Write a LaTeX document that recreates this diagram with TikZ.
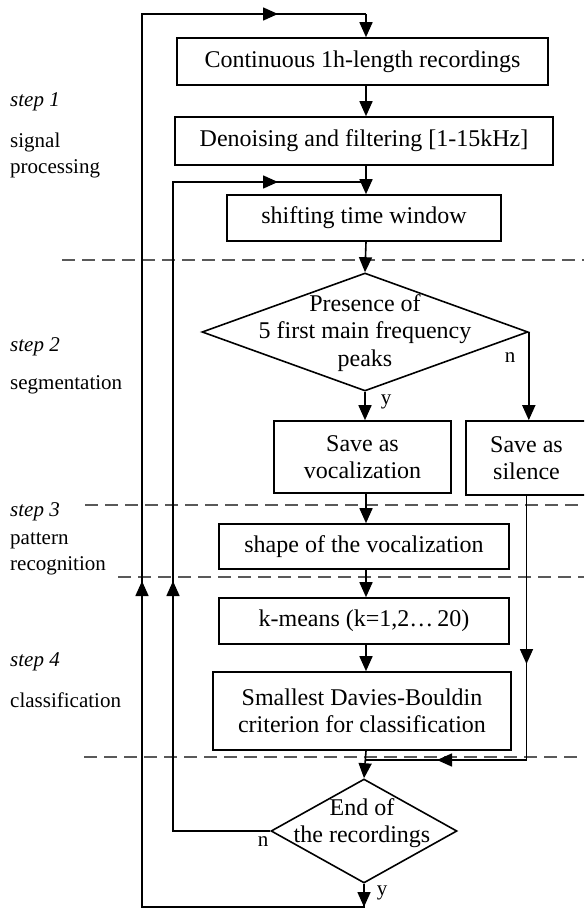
\documentclass[tikz,border=0pt]{standalone}
\usepackage{fontspec}
\setmainfont{Liberation Serif}
\usetikzlibrary{arrows.meta,shapes.geometric}
\begin{document}
\begin{tikzpicture}[x=1pt,y=-1pt,
  line/.style={draw=black, line width=1.6pt},
  arr/.style={line, -{Triangle[length=15pt,width=13pt]}},
  box/.style={draw=black, line width=1.6pt, inner sep=0pt, align=center, font=\fontsize{24}{27}\selectfont},
  dia/.style={draw=black, line width=1.6pt, diamond, inner sep=0pt},
  sep/.style={draw=black!65, line width=1.8pt, dash pattern=on 13pt off 7pt},
  lab/.style={anchor=west, inner sep=0pt, align=left, font=\fontsize{21}{26}\selectfont},
  yn/.style={inner sep=0pt, font=\fontsize{21}{24}\selectfont},
  dtext/.style={inner sep=0pt, align=center, font=\fontsize{24}{27.5}\selectfont}
]
\clip (0,0) rectangle (584,909);
% separators
\draw[sep] (62,260) -- (584,260);
\draw[sep] (85,505) -- (584,505);
\draw[sep] (118,577) -- (584,577);
\draw[sep] (84,757) -- (578,757);
% nodes
\node[box, minimum width=371pt, minimum height=47pt] (b1) at (362.5,61.5) {Continuous 1h-length recordings};
\node[box, minimum width=378pt, minimum height=48pt] (b2) at (364,141) {Denoising and filtering [1-15kHz]};
\node[box, minimum width=274pt, minimum height=46pt] (b3) at (364,218) {shifting time window};
\node[dia, minimum width=326pt, minimum height=118pt] (d1) at (365,332) {};
\node[dtext] (d1t) at (365,333) {Presence of\\5 first main frequency\\peaks};
\node[box, minimum width=177pt, minimum height=72pt] (voc) at (362.5,457) {Save as\\vocalization};
\node[box, minimum width=121pt, minimum height=74pt] (sil) at (526.5,458) {Save as\\silence};
\node[box, minimum width=290pt, minimum height=45pt] (shp) at (364,546.5) {shape of the vocalization};
\node[box, minimum width=290pt, minimum height=46pt] (km) at (364,621) {k-means (k=1,2…\,20)};
\node[box, minimum width=298pt, minimum height=78pt] (db) at (362,711) {Smallest Davies-Bouldin\\criterion for classification};
\node[dia, minimum width=186pt, minimum height=104pt] (d2) at (364,831) {};
\node[dtext] (d2t) at (362,823) {End of\\the recordings};
% left labels
\node[lab] (s1) at (10,102) {\itshape step 1};
\node[lab] (s1b) at (10,155) {signal\\processing};
\node[lab] (s2) at (10,347) {\itshape step 2};
\node[lab] (s2b) at (10,385) {segmentation};
\node[lab] (s3) at (10,512) {\itshape step 3};
\node[lab] (s3b) at (10,553.5) {pattern\\recognition};
\node[lab] (s4) at (10,662) {\itshape step 4};
\node[lab] (s4b) at (10,700) {classification};
% y / n labels
\node[yn] (y1) at (386,402) {y};
\node[yn] (n1) at (510,358) {n};
\node[yn] (n2) at (263,842) {n};
\node[yn] (y2) at (382,893) {y};
% coordinates
\coordinate (cx) at (366,0);
\coordinate (L1b) at (142,907);
\coordinate (L1m) at (142,581);
\coordinate (L1t) at (142,14);
\coordinate (T1m) at (278,14);
\coordinate (T1r) at (366,14);
\coordinate (L2x) at (173,0);
\coordinate (L2m) at (173,581);
\coordinate (L2t) at (173,182);
\coordinate (T2m) at (278,182);
\coordinate (J) at (366,760);
\coordinate (Jm) at (437,760);
\coordinate (Sm) at (526.5,664);
% outer loop
\draw[line] (d2.south) -- (d2.south |- L1b) -- (L1b) -- (L1t) -- (T1r);
\draw[arr] (d2.south) -- (d2.south |- L1b);
\draw[arr] (L1b) -- (L1m);
\draw[arr] (L1t) -- (T1m);
\draw[arr] (T1r) -- (T1r |- b1.north);
% main column
\draw[arr] (cx |- b1.south) -- (cx |- b2.north);
\draw[arr] (cx |- b2.south) -- (cx |- b3.north);
\draw[line] (d2.west) -- (L2x |- d2.west) -- (L2t) -- (cx |- L2t);
\draw[arr] (L2x |- d2.west) -- (L2m);
\draw[arr] (L2t) -- (T2m);
\draw[arr] (cx |- b3.south) -- (d1.north);
\draw[arr] (d1.south) -- (d1.south |- voc.north);
\draw[arr] (d1.east) -- (d1.east |- sil.north);
\draw[arr] (cx |- voc.south) -- (cx |- shp.north);
\draw[arr] (cx |- shp.south) -- (cx |- km.north);
\draw[arr] (cx |- km.south) -- (cx |- db.north);
\draw[arr] (cx |- db.south) -- (d2.north);
\draw[line] (sil.south) -- (sil.south |- J) -- (J);
\draw[arr] (sil.south) -- (Sm);
\draw[arr] (sil.south |- J) -- (Jm);
\end{tikzpicture}
\end{document}
